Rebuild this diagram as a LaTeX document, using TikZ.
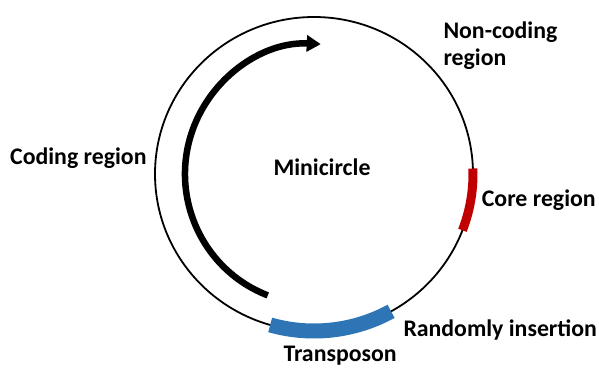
\documentclass[tikz,border=0pt]{standalone}
\usepackage{fontspec}
\setmainfont{Carlito}
\usetikzlibrary{arrows.meta,calc}
\begin{document}
\begin{tikzpicture}[x=1pt,y=1pt,
  lbl/.style={inner sep=0pt, anchor=base west, font=\fontsize{23.8}{27}\selectfont\bfseries},
  ring/.style={draw=black, line width=1.8pt},
  band/.style={line width=#1, line cap=butt}]
\useasboundingbox (0,0) rectangle (599,-367);
\coordinate (c) at (314,-174);
% main circle
\draw[ring] (c) ellipse [x radius=159pt, y radius=157pt];
% core region (red)
\draw[band=9pt, draw={rgb,255:red,192;green,0;blue,0}] ($(c)+(2:159pt and 157pt)$) arc [start angle=2, end angle=-21, x radius=159pt, y radius=157pt];
% transposon (blue)
\draw[band=15pt, draw={rgb,255:red,46;green,117;blue,182}] ($(c)+(254:159pt and 157pt)$) arc [start angle=254, end angle=299, x radius=159pt, y radius=157pt];
% coding arrow
\draw[line width=6.5pt, line cap=butt, -{Triangle[length=14pt,width=16pt]}] ($(c)+(249:129pt and 130pt)$) arc [start angle=249, end angle=87, x radius=129pt, y radius=130pt];
% labels
\node[lbl] (coding) at (10,-164) {Coding region};
\node[lbl] (mini) at (273.3,-175) {Minicircle};
\node[lbl] (nc1) at (443.3,-38.3) {Non-coding};
\node[lbl] (nc2) at (443.3,-65) {region};
\node[lbl] (core) at (481.7,-206.7) {Core region};
\node[lbl] (rand) at (403.3,-336.7) {Randomly insertion};
\node[lbl] (trans) at (283.3,-361) {Transposon};
\end{tikzpicture}
\end{document}
